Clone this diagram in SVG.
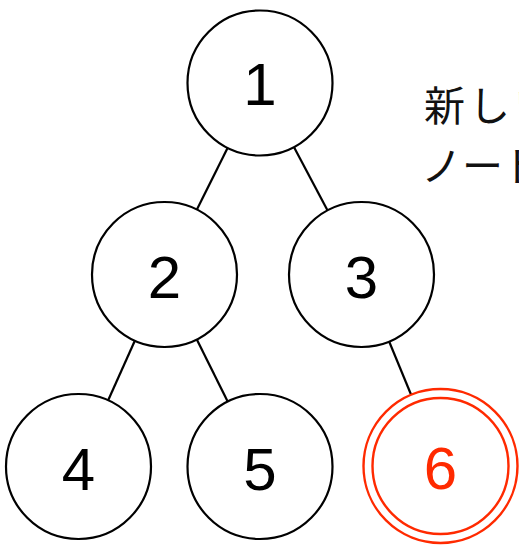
<svg xmlns="http://www.w3.org/2000/svg" width="519" height="546" viewBox="0 0 519 546">
<style>
.n{fill:#fff;stroke:#000;stroke-width:2.2}
.r{fill:none;stroke:#ff2a00;stroke-width:2.4}
.e{stroke:#000;stroke-width:2.2}
.t{font-family:"Liberation Sans",Arial,sans-serif;font-size:60px;text-anchor:middle;fill:#000}
.j{font-family:"Noto Sans CJK JP",sans-serif;font-size:41px;fill:#111}
</style>
<rect width="519" height="546" fill="#fff"/>
<g id="connectors">
<line class="e" x1="260" y1="83" x2="164.5" y2="274.5"/>
<line class="e" x1="260" y1="83" x2="361.5" y2="274.5"/>
<line class="e" x1="164.5" y1="274.5" x2="78.5" y2="466.5"/>
<line class="e" x1="164.5" y1="274.5" x2="260" y2="466.5"/>
<line class="e" x1="361.5" y1="274.5" x2="440.5" y2="466"/>
</g>
<g id="node1"><circle class="n" cx="260" cy="83" r="72.5"/><text class="t" x="260" y="105">1</text></g>
<g id="node2"><circle class="n" cx="164.5" cy="274.5" r="72.5"/><text class="t" x="164.5" y="297.5">2</text></g>
<g id="node3"><circle class="n" cx="361.5" cy="274.5" r="72.5"/><text class="t" x="361.5" y="297.5">3</text></g>
<g id="node4"><circle class="n" cx="78.5" cy="466.5" r="72.5"/><text class="t" x="78.5" y="489.5">4</text></g>
<g id="node5"><circle class="n" cx="260" cy="466.5" r="72.5"/><text class="t" x="260" y="489.5">5</text></g>
<g id="node6"><circle cx="440.5" cy="466" r="77" fill="#fff" stroke="#ff2a00" stroke-width="2.4"/><circle class="r" cx="440.5" cy="466" r="68"/><text class="t" x="440.5" y="489" style="fill:#ff2a00">6</text></g>
<g id="label"><text class="j" x="424" y="121" letter-spacing="4">新しい</text><text class="j" x="421" y="181">ノード</text></g>
</svg>
